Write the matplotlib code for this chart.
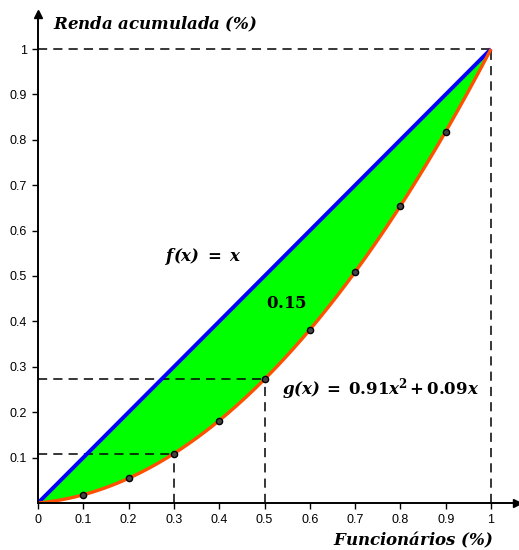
import numpy as np
import matplotlib
matplotlib.use("Agg")
import matplotlib.pyplot as plt

plt.rcParams["mathtext.fontset"] = "dejavuserif"

# Sample points of the Lorenz curve g(x) = 0.91x^2 + 0.09x
pts_x = [0.1, 0.2, 0.3, 0.4, 0.5, 0.6, 0.7, 0.8, 0.9]
pts_y = [0.0181, 0.0544, 0.1089, 0.1816, 0.2725, 0.3816, 0.5089, 0.6544, 0.8181]
coef_a, coef_b = 0.91, 0.09
gini_area = 0.15
tick_vals = [0, 0.1, 0.2, 0.3, 0.4, 0.5, 0.6, 0.7, 0.8, 0.9, 1]
tick_labels = ["0", "0.1", "0.2", "0.3", "0.4", "0.5", "0.6", "0.7", "0.8", "0.9", "1"]
guide_x = [0.3, 0.5]

fig = plt.figure(figsize=(5.19, 5.5), dpi=100)
x0, y0 = 38 / 519, 47 / 550
sx, sy = 453 / 519, 454 / 550
xmax, ymax = 1.058, 1.077
ax = fig.add_axes([x0, y0, sx * xmax, sy * ymax])
ax.set_xlim(0, xmax)
ax.set_ylim(0, ymax)

xs = np.linspace(0, 1, 400)
gs = coef_a * xs ** 2 + coef_b * xs

ax.fill_between(xs, gs, xs, color="#00ff00", lw=0, zorder=1)
ax.plot(xs, xs, color="#0000ff", lw=2.8, zorder=3, solid_capstyle="butt")
ax.plot(xs, gs, color="#ff4f00", lw=2.4, zorder=3, solid_capstyle="butt")

dash = dict(color="black", lw=1.1, ls=(0, (6, 4)), zorder=2)
for gx in guide_x:
    gy = coef_a * gx ** 2 + coef_b * gx
    ax.plot([0, gx], [gy, gy], **dash)
    ax.plot([gx, gx], [0, gy], **dash)
ax.plot([0, 1], [1, 1], **dash)
ax.plot([1, 1], [0, 1], **dash)

ax.scatter(pts_x, pts_y, s=20, color="#444444", edgecolors="black",
           linewidths=1.0, zorder=5)

# Axes with arrowheads
for s in ["top", "right"]:
    ax.spines[s].set_visible(False)
for s in ["left", "bottom"]:
    ax.spines[s].set_linewidth(1.4)
    ax.spines[s].set_zorder(4)
ax.plot(1, 0, ">k", ms=6, transform=ax.transAxes, clip_on=False)
ax.plot(0, 1, "^k", ms=6, transform=ax.transAxes, clip_on=False)

ax.set_xticks(tick_vals)
ax.set_xticklabels(tick_labels)
ax.set_yticks(tick_vals[1:])
ax.set_yticklabels(tick_labels[1:])
ax.tick_params(length=4, width=1.0, labelsize=9, pad=4,
               labelfontfamily="Liberation Sans")

lab = dict(fontsize=12)
ax.text(0.033, 1.055, r"$\mathbfit{Renda\ acumulada\ (\%)}$",
        ha="left", va="center", **lab)
ax.text(1.005, -0.081, r"$\mathbfit{Funcionários\ (\%)}$",
        ha="right", va="center", **lab)
ax.text(0.28, 0.542, r"$\mathbfit{f(x)}\ \mathbf{=}\ \mathbfit{x}$",
        ha="left", va="center", **lab)
ax.text(0.503, 0.44, r"$\mathbf{%.2f}$" % gini_area,
        ha="left", va="center", **lab)
ax.text(0.538, 0.25,
        r"$\mathbfit{g(x)}\;\mathbf{=}\;\mathbf{%.2f}\mathbfit{x}^{\mathbf{2}}\,\mathbf{+}\,\mathbf{%.2f}\mathbfit{x}$"
        % (coef_a, coef_b), ha="left", va="center", **lab)

fig.savefig("out.png", dpi=100)
